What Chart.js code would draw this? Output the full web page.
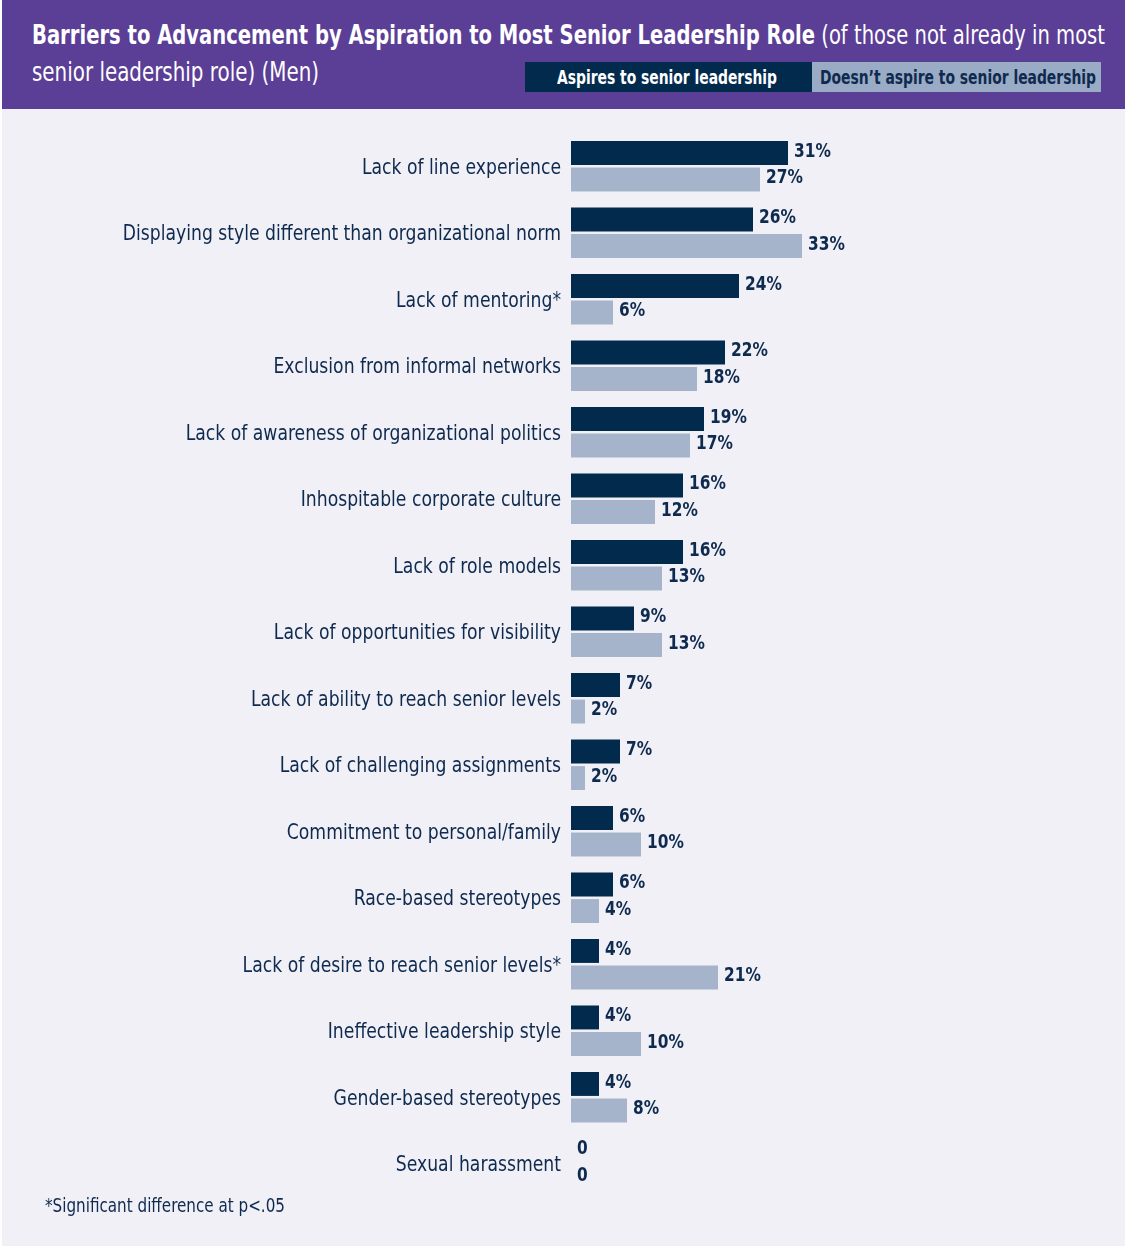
<!DOCTYPE html>
<html>
<head>
<meta charset="utf-8">
<script src="https://cdn.jsdelivr.net/npm/chart.js@4.4.1/dist/chart.umd.min.js"></script>
<style>
  html, body { margin: 0; padding: 0; background: #ffffff; }
  body { width: 1125px; height: 1246px; position: relative; overflow: hidden;
         font-family: "DejaVu Sans Condensed", "Liberation Sans Narrow", "Liberation Sans", sans-serif; }
  #header { position: absolute; left: 2px; top: 0; width: 1123px; height: 109px; background: #5b3e96; }
  .fit { position: absolute; white-space: nowrap; transform-origin: 0 50%; display: inline-block; }
  .t { color: #ffffff; font-size: 27px; line-height: 36px; }
  #t1 { left: 30px; top: 17px; }
  #t2 { left: 30px; top: 54px; }
  .leg { position: absolute; top: 62px; height: 30px; }
  #legA { left: 525px; width: 287px; background: #022a4d; }
  #legB { left: 812px; width: 289px; background: #9aabc5; }
  .legText { font-size: 19px; font-weight: bold; line-height: 30px; top: 0; }
  #panel { position: absolute; left: 2px; top: 109px; width: 1123px; height: 1137px; background: #f0f0f6; }
  #chartBox { position: absolute; left: 0; top: 112px; width: 1125px; height: 1134px; }
  #note { left: 45px; top: 1192px; font-size: 20px; line-height: 26px; color: #0f2a4f; }
</style>
</head>
<body>
<div id="header">
  <span class="fit t" id="t1" data-w="1073"><b>Barriers to Advancement by Aspiration to Most Senior Leadership Role</b> (of those not already in most</span>
  <span class="fit t" id="t2" data-w="287">senior leadership role) (Men)</span>
</div>
<div class="leg" id="legA"><span class="fit legText" data-w="220" style="left:32px;color:#ffffff">Aspires to senior leadership</span></div>
<div class="leg" id="legB"><span class="fit legText" data-w="276" style="left:8px;color:#0f2a4f">Doesn’t aspire to senior leadership</span></div>
<div id="panel"></div>
<div id="chartBox"><canvas id="c" width="1125" height="1134"></canvas></div>
<span class="fit" id="note" data-w="240">*Significant difference at p&lt;.05</span>

<script>
// Barrier categories, top to bottom
const barriers = [
  "Lack of line experience",
  "Displaying style different than organizational norm",
  "Lack of mentoring*",
  "Exclusion from informal networks",
  "Lack of awareness of organizational politics",
  "Inhospitable corporate culture",
  "Lack of role models",
  "Lack of opportunities for visibility",
  "Lack of ability to reach senior levels",
  "Lack of challenging assignments",
  "Commitment to personal/family",
  "Race-based stereotypes",
  "Lack of desire to reach senior levels*",
  "Ineffective leadership style",
  "Gender-based stereotypes",
  "Sexual harassment"
];

// Percent of men citing each barrier
const aspires       = [31, 26, 24, 22, 19, 16, 16, 9, 7, 7, 6, 6, 4, 4, 4, 0];
const doesNotAspire = [27, 33, 6, 18, 17, 12, 13, 13, 2, 2, 10, 4, 21, 10, 8, 0];

const seriesNames = ["Aspires to senior leadership", "Doesn’t aspire to senior leadership"];

// Squeeze header/legend/footnote text to a condensed width
document.querySelectorAll('.fit').forEach(el => {
  const target = parseFloat(el.dataset.w);
  const w = el.getBoundingClientRect().width;
  el.style.transform = 'scaleX(' + (target / w) + ')';
});

const FONT = '"DejaVu Sans Condensed", "Liberation Sans Narrow", "Liberation Sans", sans-serif';
const NAVY = '#022a4d';
const STEEL = '#a6b4cb';
const TEXT = '#0f2a4f';
const SQUEEZE = 0.87;   // horizontal compression for a condensed look

function squeezedText(ctx, txt, x, y, align, sx) {
  ctx.save();
  ctx.translate(x, y);
  ctx.scale(sx, 1);
  ctx.textAlign = align;
  ctx.fillText(txt, 0, 0);
  ctx.restore();
}

// Category names along the value axis start, right aligned
const categoryLabels = {
  id: 'categoryLabels',
  afterDraw(chart) {
    const ctx = chart.ctx;
    const y = chart.scales.y;
    ctx.save();
    ctx.font = '22px ' + FONT;
    ctx.fillStyle = TEXT;
    ctx.textBaseline = 'middle';
    chart.data.labels.forEach((lab, i) => {
      squeezedText(ctx, lab, chart.chartArea.left - 10, y.getPixelForValue(i) + 2, 'right', SQUEEZE);
    });
    ctx.restore();
  }
};

// Writes the value at the end of each bar
const valueLabels = {
  id: 'valueLabels',
  afterDatasetsDraw(chart) {
    const ctx = chart.ctx;
    ctx.save();
    ctx.font = 'bold 19px ' + FONT;
    ctx.fillStyle = TEXT;
    ctx.textBaseline = 'middle';
    chart.data.datasets.forEach((ds, di) => {
      const meta = chart.getDatasetMeta(di);
      meta.data.forEach((bar, i) => {
        const v = ds.data[i];
        const txt = v === 0 ? '0' : v + '%';
        squeezedText(ctx, txt, bar.x + 6, bar.y - 1, 'left', 0.9);
      });
    });
    ctx.restore();
  }
};

new Chart(document.getElementById('c'), {
  type: 'bar',
  data: {
    labels: barriers,
    datasets: [
      { label: seriesNames[0], data: aspires, backgroundColor: NAVY },
      { label: seriesNames[1], data: doesNotAspire, backgroundColor: STEEL }
    ]
  },
  options: {
    indexAxis: 'y',
    responsive: false,
    animation: false,
    devicePixelRatio: 1,
    categoryPercentage: 0.8,
    barPercentage: 0.9,
    layout: { padding: { top: 21, bottom: 49, left: 0, right: 64 } },
    plugins: {
      legend: { display: false },
      tooltip: { enabled: false },
      title: { display: false }
    },
    scales: {
      x: { display: false, min: 0, max: 70 },
      y: {
        grid: { display: false, drawTicks: false },
        border: { display: false },
        ticks: { display: false },
        afterFit(scale) { scale.width = 571; }
      }
    }
  },
  plugins: [categoryLabels, valueLabels]
});
</script>
</body>
</html>
